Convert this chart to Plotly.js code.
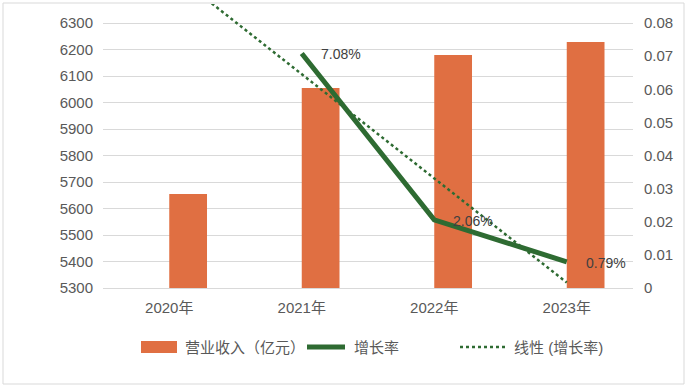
<!DOCTYPE html>
<html>
<head>
<meta charset="utf-8">
<script src="https://cdn.plot.ly/plotly-3.0.1.min.js"></script>
<style>
html,body{margin:0;padding:0;background:#fff;}
#chart{width:687px;height:387px;}
</style>
</head>
<body>
<div id="chart"></div>
<script>
// ---- data ----
const years = ['2020年', '2021年', '2022年', '2023年'];
const revenue = [5655, 6055, 6179, 6228];          // 营业收入（亿元）
const growth = [null, 0.0708, 0.0206, 0.0079];      // 增长率
const growthLabels = ['', '7.08%', '2.06%', '0.79%'];
const leftTicks = [5300, 5400, 5500, 5600, 5700, 5800, 5900, 6000, 6100, 6200, 6300];
const rightTicks = [0, 0.01, 0.02, 0.03, 0.04, 0.05, 0.06, 0.07, 0.08];
const rightTickText = ['0', '0.01', '0.02', '0.03', '0.04', '0.05', '0.06', '0.07', '0.08'];
const seriesNames = ['营业收入（亿元）', '增长率', '线性 (增长率)'];

// linear trendline (least squares over category index) of the growth series
const pts = growth.map((v, i) => [i, v]).filter(p => p[1] !== null);
const n = pts.length;
const mx = pts.reduce((s, p) => s + p[0], 0) / n;
const my = pts.reduce((s, p) => s + p[1], 0) / n;
const slope = pts.reduce((s, p) => s + (p[0] - mx) * (p[1] - my), 0) /
              pts.reduce((s, p) => s + (p[0] - mx) * (p[0] - mx), 0);
const trend = years.map((_, i) => my + slope * (i - mx));

// ---- layout geometry ----
const W = 687, H = 387;
const M = {l: 103, r: 54, t: 4, b: 99};
const PW = W - M.l - M.r, PH = H - M.t - M.b;
const px = x => (x - M.l) / PW;
const py = y => (H - M.b - y) / PH;
const pxPer100 = 26.5;
const leftTop = 5300 + (PH / pxPer100) * 100;
const rightTop = 0.08 * PH / (pxPer100 * 10);

const orange = '#E06F42';
const green = '#2E6B32';
const textCol = '#595959';
const fontFam = 'Liberation Sans, Arial, Noto Sans CJK SC, sans-serif';

const traces = [
  {
    type: 'bar', x: years, y: revenue, name: seriesNames[0],
    marker: {color: orange}, offset: 0, width: 0.285,
    yaxis: 'y', hoverinfo: 'x+y'
  },
  {
    type: 'scatter', mode: 'lines', x: years, y: growth, name: seriesNames[1],
    line: {color: green, width: 5}, yaxis: 'y2', connectgaps: false
  },
  {
    type: 'scatter', mode: 'lines', x: years, y: trend, name: seriesNames[2],
    line: {color: green, width: 2.5, dash: 'dot'}, yaxis: 'y2'
  }
];

const annotations = [];
years.forEach((yr, i) => {
  if (growth[i] === null) return;
  annotations.push({
    x: yr, y: growth[i], xref: 'x', yref: 'y2', text: growthLabels[i],
    showarrow: false, xanchor: 'left', yanchor: 'middle', xshift: 17, yshift: -1,
    font: {family: fontFam, size: 14, color: '#404040'}
  });
});

// custom legend
const legY = 347;
const legendText = [
  {x: 183, t: seriesNames[0]},
  {x: 352, t: seriesNames[1]},
  {x: 512, t: seriesNames[2]}
];
legendText.forEach(o => annotations.push({
  x: px(o.x), y: py(legY), xref: 'paper', yref: 'paper', text: o.t,
  showarrow: false, xanchor: 'left', yanchor: 'middle',
  font: {family: fontFam, size: 15, color: textCol}
}));

const shapes = [
  // chart-area border
  {type: 'rect', xref: 'paper', yref: 'paper', x0: px(3), x1: px(684), y0: py(3), y1: py(384),
   line: {color: '#D9D9D9', width: 1}, fillcolor: 'rgba(0,0,0,0)', layer: 'below'},
  // legend symbols
  {type: 'rect', xref: 'paper', yref: 'paper', x0: px(141), x1: px(177), y0: py(353), y1: py(341),
   line: {width: 0}, fillcolor: orange},
  {type: 'line', xref: 'paper', yref: 'paper', x0: px(307), x1: px(345), y0: py(legY), y1: py(legY),
   line: {color: green, width: 5}},
  {type: 'line', xref: 'paper', yref: 'paper', x0: px(460), x1: px(505), y0: py(legY), y1: py(legY),
   line: {color: green, width: 2.5, dash: 'dot'}}
];

const layout = {
  width: W, height: H,
  margin: M,
  paper_bgcolor: '#fff', plot_bgcolor: '#fff',
  showlegend: false,
  font: {family: fontFam, size: 15, color: textCol},
  xaxis: {
    type: 'category', categoryarray: years, showgrid: false, zeroline: false,
    showline: true, linecolor: '#D9D9D9', linewidth: 1, ticks: '',
    tickfont: {size: 15, color: textCol}, ticklabelstandoff: 6, fixedrange: true
  },
  yaxis: {
    range: [5300, leftTop], tickvals: leftTicks, ticktext: leftTicks.map(String),
    showgrid: true, gridcolor: '#D9D9D9', gridwidth: 1, zeroline: false, showline: false,
    ticks: '', tickfont: {size: 15, color: textCol}, ticklabelstandoff: 9
  },
  yaxis2: {
    overlaying: 'y', side: 'right', range: [0, rightTop],
    tickvals: rightTicks, ticktext: rightTickText,
    showgrid: false, zeroline: false, showline: false, ticks: '',
    tickfont: {size: 15, color: textCol}, ticklabelstandoff: 10
  },
  annotations: annotations,
  shapes: shapes
};

Plotly.newPlot('chart', traces, layout, {staticPlot: true});
</script>
</body>
</html>
